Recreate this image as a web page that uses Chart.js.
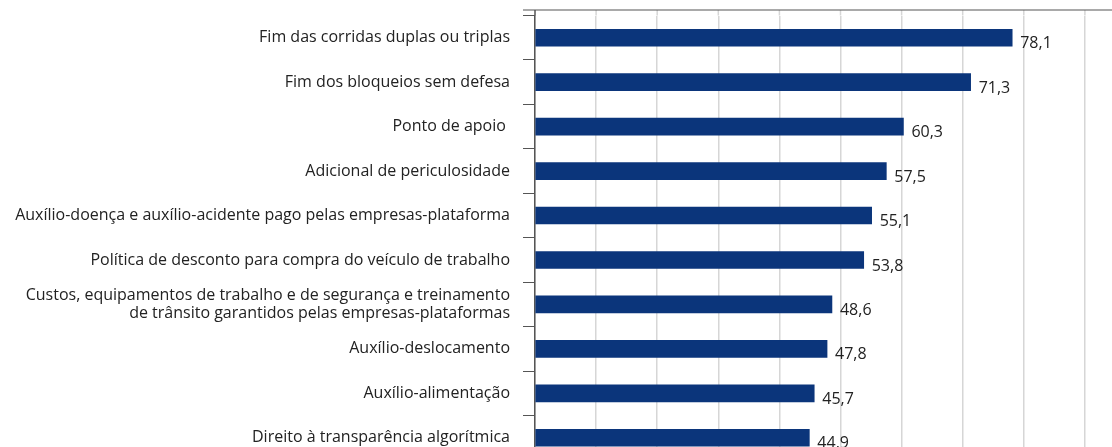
<!DOCTYPE html>
<html>
<head>
<meta charset="utf-8">
<script src="https://cdn.jsdelivr.net/npm/chart.js@4"></script>
<style>
  html, body { margin: 0; padding: 0; background: #fff; overflow: hidden; }
  #wrap { width: 1112px; height: 447px; overflow: hidden; }
</style>
</head>
<body>
<div id="wrap">
  <canvas id="bar" width="1150" height="460"></canvas>
</div>
<script>
const categories = [
  'Fim das corridas duplas ou triplas',
  'Fim dos bloqueios sem defesa',
  'Ponto de apoio ',
  'Adicional de periculosidade',
  'Auxílio-doença e auxílio-acidente pago pelas empresas-plataforma',
  'Política de desconto para compra do veículo de trabalho',
  ['Custos, equipamentos de trabalho e de segurança e treinamento', 'de trânsito garantidos pelas empresas-plataformas'],
  'Auxílio-deslocamento',
  'Auxílio-alimentação',
  'Direito à transparência algorítmica'
];
const values = [78.1, 71.3, 60.3, 57.5, 55.1, 53.8, 48.6, 47.8, 45.7, 44.9];
const xMin = 0;
const xMax = 100;
const xStep = 10;

const fontFamily = '"Open Sans", "Noto Sans", sans-serif';
const topGap = 5.5;

// top rule + gridlines pushed up to it
const topFrame = {
  id: 'topFrame',
  beforeDatasetsDraw(chart) {
    const c = chart.ctx;
    const area = chart.chartArea;
    const x = chart.scales.x;
    const yTop = area.top - topGap;
    c.save();
    c.strokeStyle = '#d6d6d6';
    c.lineWidth = 1.5;
    x.ticks.forEach(t => {
      if (t.value === xMin) return;
      const px = x.getPixelForValue(t.value);
      c.beginPath();
      c.moveTo(px, yTop);
      c.lineTo(px, area.top);
      c.stroke();
    });
    c.strokeStyle = '#555';
    c.beginPath();
    c.moveTo(area.left, yTop);
    c.lineTo(area.left, area.top);
    c.stroke();
    c.lineWidth = 1.2;
    c.beginPath();
    c.moveTo(area.left - 12, yTop);
    c.lineTo(chart.width, yTop);
    c.stroke();
    c.restore();
  }
};

// draws the numbers next to each bar
const valueLabels = {
  id: 'valueLabels',
  afterDatasetsDraw(chart) {
    const c = chart.ctx;
    const meta = chart.getDatasetMeta(0);
    c.save();
    c.font = '16px ' + fontFamily;
    c.fillStyle = '#222';
    c.textAlign = 'left';
    c.textBaseline = 'middle';
    meta.data.forEach((bar, i) => {
      const txt = values[i].toFixed(1).replace('.', ',');
      c.fillText(txt, bar.x + 8, bar.y + 6);
    });
    c.restore();
  }
};

const ctx = document.getElementById('bar');
new Chart(ctx, {
  type: 'bar',
  data: {
    labels: categories,
    datasets: [{
      data: values,
      backgroundColor: '#0b357b',
      borderWidth: 0,
      barThickness: 17
    }]
  },
  options: {
    indexAxis: 'y',
    responsive: false,
    animation: false,
    layout: {
      padding: { top: 15.5, right: 4, bottom: 0, left: 0 }
    },
    plugins: {
      legend: { display: false },
      tooltip: { enabled: false }
    },
    scales: {
      x: {
        position: 'top',
        min: xMin,
        max: xMax,
        afterFit(scale) { scale.height = 0; },
        ticks: { display: false, stepSize: xStep },
        grid: {
          color: '#d6d6d6',
          lineWidth: 1.5,
          drawTicks: false
        },
        border: { display: false }
      },
      y: {
        afterFit(scale) {
          scale.width = 535;
          scale.paddingTop = 0;
          scale.paddingBottom = 0;
        },
        ticks: {
          color: '#222',
          padding: 13,
          font: { family: fontFamily, size: 16, lineHeight: 1.1 }
        },
        grid: {
          offset: true,
          drawOnChartArea: false,
          drawTicks: true,
          tickLength: 12,
          color: '#555'
        },
        border: { display: true, color: '#555', width: 1.5 }
      }
    }
  },
  plugins: [topFrame, valueLabels]
});
</script>
</body>
</html>
